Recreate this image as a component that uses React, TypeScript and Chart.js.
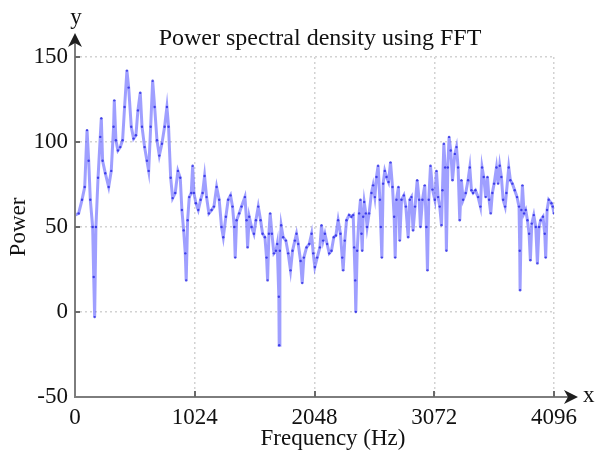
import React, { useEffect, useRef } from 'react';
import { Chart, registerables } from 'chart.js';

Chart.register(...registerables);

const titleText = 'Power spectral density using FFT';
const xLabel = 'Frequency (Hz)';
const yLabel = 'Power';

const xTicks = [0, 1024, 2048, 3072, 4096];
const yTicks = [-50, 0, 50, 100, 150];

const frequencies = [
  0, 31, 60, 83, 103, 117, 131, 151, 160, 168, 179, 197, 216, 225, 236, 259, 288, 310, 330, 336,
  350, 367, 387, 407, 424, 444, 459, 481, 501, 521, 538, 558, 573, 595, 615, 630, 647, 664, 681, 701,
  721, 743, 766, 786, 800, 818, 835, 857, 880, 900, 914, 929, 943, 951, 963, 977, 994, 1006, 1017, 1034,
  1054, 1074, 1091, 1108, 1125, 1145, 1168, 1188, 1211, 1233, 1253, 1268, 1290, 1310, 1330, 1347, 1362, 1370, 1382, 1404,
  1424, 1453, 1467, 1476, 1490, 1510, 1530, 1547, 1567, 1587, 1604, 1624, 1638, 1647, 1658, 1669, 1684, 1701, 1718, 1729,
  1743, 1746, 1752, 1763, 1780, 1803, 1823, 1843, 1860, 1880, 1894, 1909, 1929, 1943, 1957, 1980, 2003, 2023, 2037, 2051,
  2071, 2094, 2108, 2122, 2137, 2156, 2174, 2193, 2213, 2231, 2250, 2270, 2285, 2293, 2307, 2322, 2344, 2364, 2379, 2387,
  2396, 2401, 2413, 2430, 2441, 2450, 2456, 2464, 2473, 2487, 2498, 2515, 2535, 2549, 2564, 2578, 2592, 2607, 2615, 2624,
  2635, 2649, 2664, 2681, 2698, 2715, 2729, 2738, 2749, 2766, 2777, 2792, 2812, 2829, 2849, 2863, 2877, 2891, 2908, 2926,
  2943, 2954, 2971, 2991, 3005, 3014, 3025, 3040, 3057, 3077, 3091, 3105, 3119, 3134, 3142, 3154, 3165, 3176, 3188, 3199,
  3213, 3228, 3248, 3262, 3276, 3290, 3304, 3319, 3341, 3361, 3376, 3390, 3404, 3424, 3447, 3467, 3481, 3495, 3512, 3527,
  3541, 3555, 3569, 3584, 3604, 3618, 3632, 3646, 3661, 3678, 3689, 3709, 3723, 3740, 3760, 3780, 3797, 3803, 3806, 3817,
  3826, 3840, 3854, 3869, 3883, 3894, 3906, 3923, 3940, 3954, 3968, 3982, 4002, 4017, 4025, 4037, 4051, 4074, 4085, 4096,
];

const power = [
  57, 58, 66, 73.5, 107, 89, 66, 50, 20.6, -3, 50, 79, 103, 114, 89, 81.6, 73.5, 83, 109, 124.5,
  101, 95, 97, 101, 120.6, 142, 132, 109, 102, 104, 118.6, 129, 109, 97, 89, 83, 109, 136, 120.6, 101,
  92, 99, 109, 120.6, 109, 79, 67, 70, 83, 79, 60, 48, 34.5, 18.6, 54, 67.6, 70, 86, 70, 64,
  60, 66, 70, 80, 67.6, 58, 60, 62, 73.5, 66, 50, 44, 56, 66, 68.6, 62, 50, 32, 54, 58,
  62, 67.6, 54, 38, 56, 50, 46, 54, 62, 54, 46, 44, 32, 18.6, 46, 58, 46, 34.5, 36, 40,
  9, -19.6, 36, 51, 44, 42, 34.5, 24.5, 36, 42, 46, 40, 30, 17, 32, 38, 40, 46, 34.5, 26.5,
  32, 38, 51, 42, 46, 40, 34.5, 36, 44, 45, 54, 46, 32, 24.5, 42, 54, 57, 56, 57, 38,
  18.6, 0, 36, 58, 66, 46, 36, 56, 64.7, 58, 50, 58, 70, 74.5, 67.6, 79.4, 86, 66, 50, 32,
  75.5, 83, 79.4, 76.5, 88, 73.5, 56, 32, 66, 73.5, 42, 66, 68.6, 62, 44, 66, 67.6, 48, 62, 77.5,
  66, 50, 66, 74.5, 50, 24.5, 66, 86, 72, 66, 83, 67.6, 62, 51, 71.6, 99, 85, 36, 85, 103,
  95, 77.5, 93, 97, 85, 54, 77.5, 66, 70, 77.5, 85, 71.6, 70, 71.6, 67.6, 62, 85, 79.4, 67.6, 79.4,
  66, 58, 70, 75.5, 85, 75.5, 86, 79.4, 66, 62, 70, 85, 77.5, 75.5, 71.6, 67.6, 62, 36, 12.8, 60,
  74.5, 58, 60, 54, 46, 30.4, 52, 57, 50, 28.6, 50, 54, 56, 46, 32, 60, 66, 64, 62, 58,
];

const FONT = '"Liberation Serif", "Times New Roman", serif';

const decor = {
  id: 'decor',
  afterDraw(chart: any) {
    const { ctx, chartArea: a, scales } = chart;
    const xs = scales.x;
    const ys = scales.y;
    ctx.save();
    // axis lines
    ctx.strokeStyle = '#7d7d7d';
    ctx.lineWidth = 2;
    ctx.beginPath();
    ctx.moveTo(a.left, a.bottom + 1);
    ctx.lineTo(a.left, a.top - 14);
    ctx.moveTo(a.left - 1, a.bottom);
    ctx.lineTo(a.right + 14, a.bottom);
    ctx.stroke();
    // inner tick marks
    ctx.lineWidth = 2;
    ctx.strokeStyle = '#6a6a6a';
    ctx.beginPath();
    xTicks.forEach((v) => {
      const px = Math.round(xs.getPixelForValue(v));
      if (v === xTicks[0]) return;
      ctx.moveTo(px, a.bottom);
      ctx.lineTo(px, a.bottom - 6);
    });
    yTicks.forEach((v) => {
      const py = Math.round(ys.getPixelForValue(v));
      if (v === yTicks[0]) return;
      ctx.moveTo(a.left, py);
      ctx.lineTo(a.left + 5, py);
    });
    ctx.stroke();
    // arrowheads
    ctx.fillStyle = '#1e1e1e';
    const tipY = a.top - 24;
    ctx.beginPath();
    ctx.moveTo(a.left, tipY);
    ctx.lineTo(a.left + 7, tipY + 14);
    ctx.lineTo(a.left, tipY + 10);
    ctx.lineTo(a.left - 7, tipY + 14);
    ctx.closePath();
    ctx.fill();
    const tipX = a.right + 24;
    ctx.beginPath();
    ctx.moveTo(tipX, a.bottom);
    ctx.lineTo(tipX - 14, a.bottom - 7);
    ctx.lineTo(tipX - 10, a.bottom);
    ctx.lineTo(tipX - 14, a.bottom + 7);
    ctx.closePath();
    ctx.fill();
    // axis letters
    ctx.fillStyle = '#111';
    ctx.font = `23px ${FONT}`;
    ctx.textAlign = 'center';
    ctx.textBaseline = 'alphabetic';
    ctx.fillText('y', a.left + 1, 24);
    ctx.textAlign = 'left';
    ctx.fillText('x', tipX + 5, a.bottom + 5);
    // x axis label
    ctx.textAlign = 'center';
    ctx.textBaseline = 'middle';
    ctx.fillText(xLabel, 333, 439);
    // title
    ctx.font = `24px ${FONT}`;
    ctx.textBaseline = 'alphabetic';
    ctx.fillText(titleText, 320, 45);
    ctx.restore();
  },
};

export default function App() {
  const ref = useRef<HTMLCanvasElement | null>(null);
  useEffect(() => {
    if (!ref.current) return;
    const points = frequencies.map((f, i) => ({ x: f, y: power[i] }));
    const chart = new Chart(ref.current, {
      type: 'line',
      data: {
        datasets: [
          {
            data: points,
            borderColor: 'rgba(80, 80, 255, 0.55)',
            borderWidth: 3,
            pointRadius: 1.2,
            pointBackgroundColor: 'rgba(30, 30, 225, 0.75)',
            pointBorderWidth: 0,
            tension: 0,
          },
        ],
      },
      plugins: [decor],
      options: {
        animation: false,
        responsive: false,
        devicePixelRatio: 1,
        layout: { padding: { top: 57, right: 45, left: 0, bottom: 0 } },
        plugins: { legend: { display: false }, tooltip: { enabled: false }, title: { display: false } },
        scales: {
          x: {
            type: 'linear',
            min: xTicks[0],
            max: xTicks[xTicks.length - 1],
            afterBuildTicks: (s: any) => {
              s.ticks = xTicks.map((v) => ({ value: v }));
            },
            afterFit: (s: any) => {
              s.height = 59;
            },
            grid: { color: '#d2d2d2', lineWidth: 1.5, drawTicks: false },
            border: { display: false, dash: [2, 3] },
            ticks: {
              padding: 7,
              color: '#111',
              font: { family: FONT, size: 23 },
              maxRotation: 0,
              autoSkip: false,
              callback: (v: any) => String(v),
            },
            title: { display: false },
          },
          y: {
            type: 'linear',
            min: yTicks[0],
            max: yTicks[yTicks.length - 1],
            afterBuildTicks: (s: any) => {
              s.ticks = yTicks.map((v) => ({ value: v }));
            },
            afterFit: (s: any) => {
              s.width = 75;
            },
            grid: { color: '#d2d2d2', lineWidth: 1.5, drawTicks: false },
            border: { display: false, dash: [2, 3] },
            ticks: {
              padding: 7,
              color: '#111',
              font: { family: FONT, size: 23 },
              callback: (v: any) => String(v),
            },
            title: {
              display: true,
              text: yLabel,
              color: '#111',
              font: { family: FONT, size: 23 },
              padding: { top: 5, bottom: 0 },
            },
          },
        },
      },
    });
    return () => chart.destroy();
  }, []);
  return (
    <div style={{ position: 'fixed', left: 0, top: 0, width: 599, height: 456, background: '#fff' }}>
      <canvas ref={ref} width={599} height={456} />
    </div>
  );
}
